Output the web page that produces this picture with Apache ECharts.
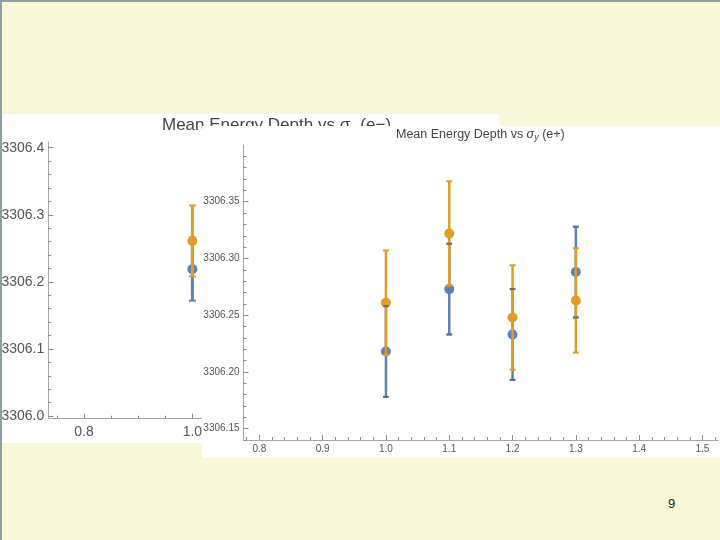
<!DOCTYPE html>
<html>
<head>
<meta charset="utf-8">
<script src="https://cdn.jsdelivr.net/npm/echarts@6/dist/echarts.min.js"></script>
<style>
  html, body { margin: 0; padding: 0; }
  body { width: 720px; height: 540px; position: relative; overflow: hidden; background: #F8F8D6; }
  #slide { position: absolute; left: 0; top: 0; width: 718px; height: 538px; border-left: 2px solid #8E9FA3; border-top: 2px solid #8E9FA3; }
  #back-chart { position: absolute; left: 2px; top: 114px; width: 497px; height: 329px; background: #fff; }
  #front-chart { position: absolute; left: 202px; top: 126px; width: 518px; height: 332px; background: #fff; }
  #page-num { position: absolute; left: 668px; top: 496px; font: 13px "Liberation Sans", Arial, sans-serif; color: #222; }
</style>
</head>
<body>
<div id="slide"></div>
<div id="back-chart"></div>
<div id="front-chart"></div>
<div id="page-num">9</div>
<script>
// sigma values on the x axis
var sigmaX = [1.0, 1.1, 1.2, 1.3];

// first series (blue): mean and error
var blueMean = [3306.218, 3306.273, 3306.233, 3306.288];
var blueErr = [0.040, 0.040, 0.040, 0.040];

// second series (orange): mean and error
var orangeMean = [3306.261, 3306.322, 3306.248, 3306.263];
var orangeErr = [0.046, 0.046, 0.046, 0.046];

// back plot (e-) only shows the point at 1.0
var backSigma = [1.0];
var backBlueMean = [3306.219];
var backBlueErr = [0.047];
var backOrangeMean = [3306.261];
var backOrangeErr = [0.053];

// tick labels
var frontXLabels = [0.8, 0.9, 1.0, 1.1, 1.2, 1.3, 1.4, 1.5];
var frontYLabels = [3306.15, 3306.20, 3306.25, 3306.30, 3306.35];
var backXLabels = [0.8, 1.0, 1.2, 1.4];
var backYLabels = [3306.0, 3306.1, 3306.2, 3306.3, 3306.4];

var BLUE = '#5E81B5';
var ORANGE = '#E19C24';
var FONT = '"Liberation Sans", Arial, sans-serif';

function steps(from, to, step, digits) {
    var out = [];
    var n = Math.round((to - from) / step);
    for (var i = 0; i <= n; i++) {
        out.push(+(from + i * step).toFixed(digits));
    }
    return out;
}

function toBars(xs, mean, err) {
    return xs.map(function (x, i) {
        return [x, mean[i] - err[i], mean[i] + err[i]];
    });
}

function toPoints(xs, mean) {
    return xs.map(function (x, i) {
        return [x, mean[i]];
    });
}

function errorBarSeries(data, color, width, capW, z, capsOnly) {
    return {
        type: 'custom',
        z: z,
        xAxisIndex: 0,
        yAxisIndex: 0,
        data: data,
        renderItem: function (params, api) {
            var lo = api.coord([api.value(0), api.value(1)]);
            var hi = api.coord([api.value(0), api.value(2)]);
            var style = { stroke: color, lineWidth: width };
            var capStyle = { stroke: capsOnly ? '#6b6b73' : color, lineWidth: 2 };
            var children = [
                { type: 'line', shape: { x1: lo[0] - capW, y1: lo[1], x2: lo[0] + capW, y2: lo[1] }, style: capStyle },
                { type: 'line', shape: { x1: hi[0] - capW, y1: hi[1], x2: hi[0] + capW, y2: hi[1] }, style: capStyle }
            ];
            if (!capsOnly) {
                children.unshift({ type: 'line', shape: { x1: lo[0], y1: lo[1], x2: hi[0], y2: hi[1] }, style: style });
            }
            return { type: 'group', children: children };
        }
    };
}

function axisPair(kind, min, max, labels, minors, fontSize, labelDigits, majorLen, minorLen, margin) {
    var common = {
        type: 'value',
        min: min,
        max: max,
        gridIndex: 0,
        splitLine: { show: false }
    };
    if (kind === 'x') common.position = 'bottom';
    else common.position = 'left';
    var major = Object.assign({}, common, {
        axisLine: { show: true, onZero: false, lineStyle: { color: '#a6a6a6', width: 1 } },
        axisTick: { show: true, inside: true, length: majorLen, customValues: labels, lineStyle: { color: '#8c8c8c' } },
        axisLabel: {
            show: true, customValues: labels, color: '#555', fontFamily: FONT, fontSize: fontSize, margin: margin,
            formatter: function (v) { return v.toFixed(labelDigits); }
        }
    });
    var minor = Object.assign({}, common, {
        axisLine: { show: false, onZero: false },
        axisTick: { show: true, inside: true, length: minorLen, customValues: minors, lineStyle: { color: '#8c8c8c' } },
        axisLabel: { show: false }
    });
    return [major, minor];
}

// ---------- back chart (e-) ----------
var backChart = echarts.init(document.getElementById('back-chart'));
backChart.setOption({
    animation: false,
    title: {
        left: 160,
        top: 2,
        padding: 0,
        text: 'Mean Energy Depth vs σ{sub|x} (e−)',
        textStyle: {
            fontFamily: FONT, fontSize: 17, fontWeight: 'normal', color: '#444',
            rich: { sub: { fontFamily: FONT, fontSize: 11, color: '#444', verticalAlign: 'bottom', padding: [8, 0, 0, 0] } }
        }
    },
    grid: { left: 46.3, top: 27.7, bottom: 24.3, right: 8.7, containLabel: false, outerBoundsMode: 'none' },
    xAxis: axisPair('x', 0.734, 1.55, backXLabels, steps(0.75, 1.55, 0.05, 2), 14, 1, 5, 3, 6),
    yAxis: axisPair('y', 3305.996, 3306.409, backYLabels, steps(3306.0, 3306.4, 0.02, 2), 14, 1, 5, 3, 4),
    series: [
        errorBarSeries(toBars(backSigma, backBlueMean, backBlueErr), BLUE, 3, 3.5, 2),
        { type: 'scatter', z: 3, symbolSize: 10, itemStyle: { color: BLUE, opacity: 1 }, data: toPoints(backSigma, backBlueMean) },
        errorBarSeries(toBars(backSigma, backOrangeMean, backOrangeErr), ORANGE, 3, 3.5, 4),
        { type: 'scatter', z: 5, symbolSize: 10, itemStyle: { color: ORANGE, opacity: 1 }, data: toPoints(backSigma, backOrangeMean) }
    ]
});

// ---------- front chart (e+) ----------
var frontChart = echarts.init(document.getElementById('front-chart'));
frontChart.setOption({
    animation: false,
    title: {
        left: 194,
        top: 1,
        padding: 0,
        text: 'Mean Energy Depth vs {s|σ}{sub|y} (e+)',
        textStyle: {
            fontFamily: FONT, fontSize: 12.5, fontWeight: 'normal', color: '#444',
            rich: {
                s: { fontFamily: FONT, fontSize: 12.5, fontStyle: 'italic', color: '#444' },
                sub: { fontFamily: FONT, fontSize: 9, fontStyle: 'italic', color: '#444', verticalAlign: 'bottom', padding: [6, 0, 0, 0] }
            }
        }
    },
    grid: { left: 41.5, top: 19, bottom: 18, right: 1.7, containLabel: false, outerBoundsMode: 'none' },
    xAxis: axisPair('x', 0.775, 1.525, frontXLabels, steps(0.78, 1.52, 0.02, 2), 10, 1, 5, 3, 4),
    yAxis: axisPair('y', 3306.14, 3306.40, frontYLabels, steps(3306.14, 3306.39, 0.01, 2), 10, 2, 5, 3, 4),
    series: [
        errorBarSeries(toBars(sigmaX, blueMean, blueErr), BLUE, 2.5, 3, 2),
        { type: 'scatter', z: 3, symbolSize: 10, itemStyle: { color: BLUE, opacity: 1 }, data: toPoints(sigmaX, blueMean) },
        errorBarSeries(toBars(sigmaX, orangeMean, orangeErr), ORANGE, 2.5, 3, 4),
        { type: 'scatter', z: 5, symbolSize: 10, itemStyle: { color: ORANGE, opacity: 1 }, data: toPoints(sigmaX, orangeMean) },
        errorBarSeries(toBars(sigmaX, blueMean, blueErr), BLUE, 2, 2.5, 6, true)
    ]
});
</script>
</body>
</html>
